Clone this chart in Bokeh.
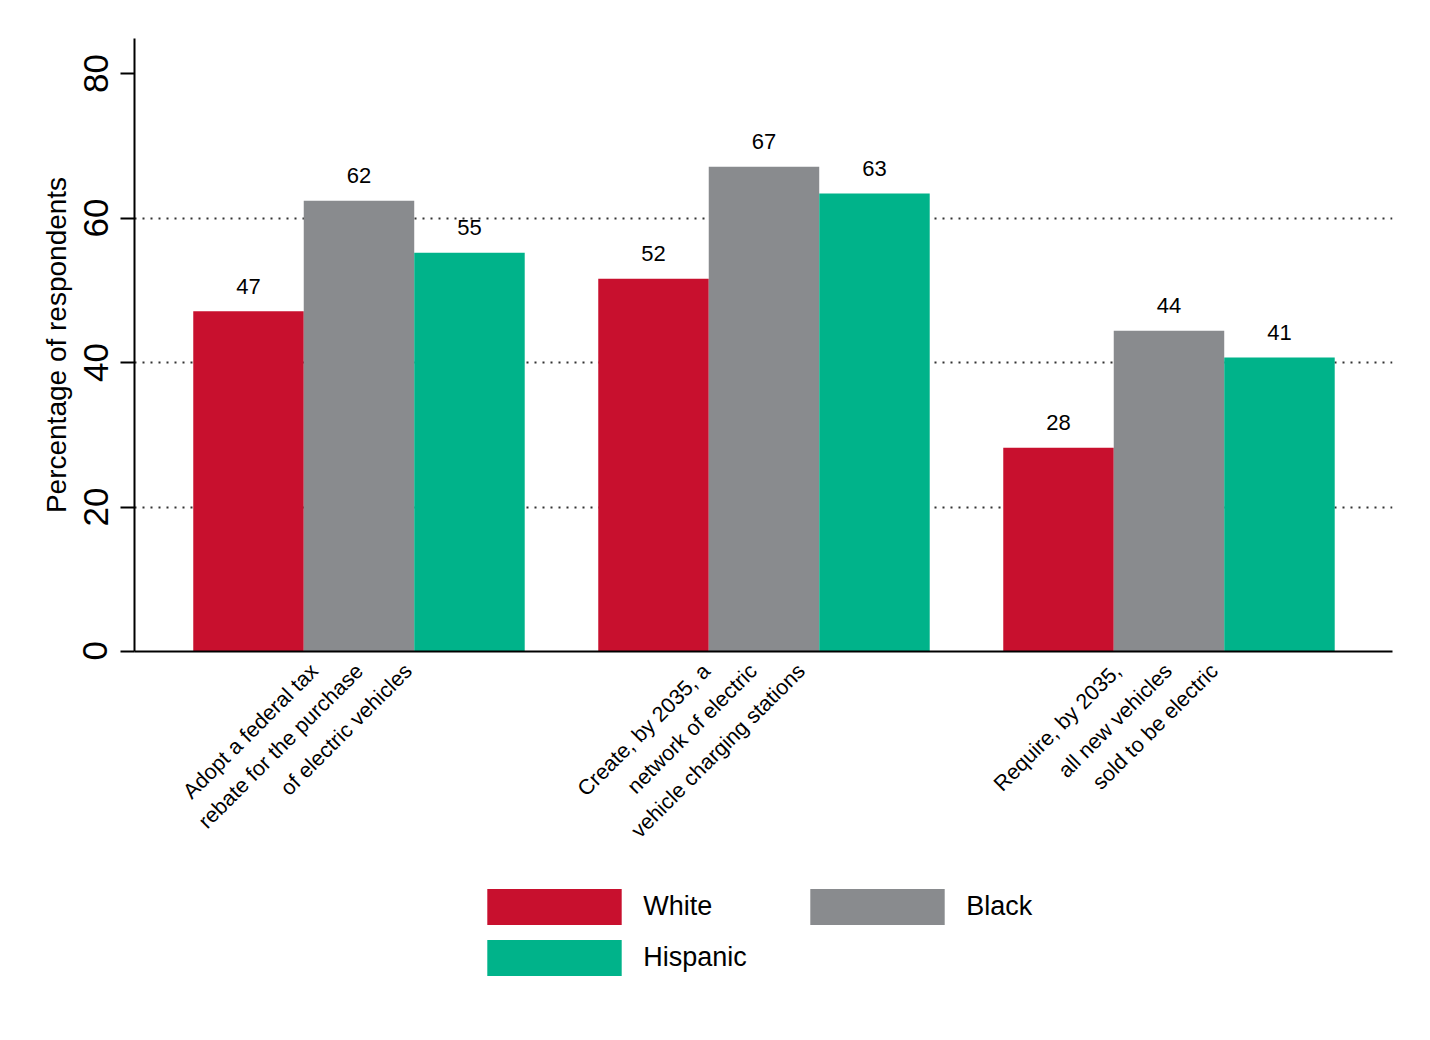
import math
from bokeh.plotting import figure
from bokeh.layouts import column
from bokeh.models import Range1d, FixedTicker, Legend, LegendItem
from bokeh.embed import file_html
from bokeh.resources import INLINE
from bokeh.core.properties import value

# ---------------- data ----------------
categories = [
    ["Adopt a federal tax", "rebate for the purchase", "of electric vehicles"],
    ["Create, by 2035, a", "network of electric", "vehicle charging stations"],
    ["Require, by 2035,", "all new vehicles", "sold to be electric"],
]
series_names = ["White", "Black", "Hispanic"]
white = [47.1, 51.6, 28.2]
black = [62.4, 67.1, 44.4]
hispanic = [55.2, 63.4, 40.7]
y_ticks = [0, 20, 40, 60, 80]
y_axis_title = "Percentage of respondents"

# ---------------- styles / layout ----------------
colors = ["#C8102E", "#898B8E", "#00B38A"]
FONT = "Liberation Sans"
W = 1414
H1, H2 = 660, 364
ML, MR, MT, MB = 134, 22, 38, 9
PX = 578 / 80.0            # pixels per percentage point
UX = 405.0                 # pixels per category unit
frame_h = H1 - MT - MB
frame_w = W - ML - MR
Y_END = frame_h / PX
x_start = 0.4457
x_end = x_start + frame_w / UX
BW = 0.2728
xr = Range1d(x_start, x_end)

# ---------------- top figure: bars ----------------
p = figure(width=W, height=H1, output_backend="svg", toolbar_location=None,
           x_range=xr, y_range=Range1d(0, Y_END),
           min_border_left=ML, min_border_right=MR, min_border_top=MT,
           min_border_bottom=MB)
p.outline_line_color = None
p.background_fill_color = "white"
p.border_fill_color = "white"
p.xgrid.visible = False

# x axis: just the black baseline
xa = p.xaxis[0]
xa.ticker = FixedTicker(ticks=[])
xa.axis_line_color = "black"
xa.axis_line_width = 2
xa.major_tick_out = 0
xa.major_tick_in = 0
xa.minor_tick_out = 0
xa.minor_tick_in = 0
xa.major_label_standoff = 0

# grid
p.ygrid.ticker = FixedTicker(ticks=[20, 40, 60])
p.ygrid.grid_line_color = "#333333"
p.ygrid.grid_line_width = 2
p.ygrid.grid_line_dash = "2 6"

# y axis
ax = p.yaxis[0]
ax.ticker = FixedTicker(ticks=y_ticks)
ax.axis_line_width = 2
ax.axis_line_color = "black"
ax.major_tick_line_width = 2
ax.major_tick_line_color = "black"
ax.major_tick_out = 14
ax.major_tick_in = 0
ax.minor_tick_out = 0
ax.minor_tick_in = 0
ax.major_label_orientation = "vertical"
ax.major_label_text_font = FONT
ax.major_label_text_font_size = "35px"
ax.major_label_text_color = "black"
ax.major_label_standoff = 13
ax.axis_label = y_axis_title
ax.axis_label_text_font = FONT
ax.axis_label_text_font_size = "28px"
ax.axis_label_text_font_style = "normal"
ax.axis_label_text_color = "black"
ax.axis_label_standoff = 9

# bars + value labels
for k, vals in enumerate([white, black, hispanic]):
    xs = [g + 1 + (k - 1) * BW for g in range(len(vals))]
    p.vbar(x=xs, top=vals, bottom=0, width=BW, fill_color=colors[k],
           line_color=None)
    p.text(x=xs, y=[v + 25 / PX for v in vals],
           text=[str(int(round(v))) for v in vals],
           text_align="center", text_baseline="alphabetic",
           text_font=value(FONT), text_font_size="22px", text_color="black")

# ---------------- bottom figure: category labels + legend ----------------
q = figure(width=W, height=H2, output_backend="svg", toolbar_location=None,
           x_range=xr, y_range=Range1d(0, H2),
           min_border_left=ML, min_border_right=MR, min_border_top=0,
           min_border_bottom=0)
q.outline_line_color = None
q.background_fill_color = "white"
q.border_fill_color = "white"
q.xaxis.visible = False
q.yaxis.visible = False
q.grid.visible = False

LINE_OFF = [[-44.5, 0.5, 49.5], [-57.5, -10.5, 37.5], [-51.5, -0.5, 45.5]]
LAB_Y = H2 - 7
for g, lines in enumerate(categories):
    xs = [g + 1 + LINE_OFF[g][i] / UX for i in range(len(lines))]
    q.text(x=xs, y=[LAB_Y] * len(lines), text=lines, angle=math.pi / 4,
           text_align="right", text_baseline="middle",
           text_font=value(FONT), text_font_size="21.5px", text_color="black")

# legend proxies: zero-height bars carrying the series colours
proxies = [q.vbar(x=[1], top=[0], bottom=[0], width=BW, fill_color=c,
                  line_color=None)
           for c in colors]
legend = Legend(
    items=[LegendItem(label=n, renderers=[r]) for n, r in zip(series_names, proxies)],
    location=(336.25, 44.5), orientation="horizontal", ncols=2,
    glyph_width=168, glyph_height=45, label_standoff=5, label_width=144,
    spacing=6, padding=0, margin=0, border_line_color=None,
    background_fill_alpha=0, label_text_font=FONT,
    label_text_font_size="27px", label_text_color="black")
q.add_layout(legend)

layout = column(p, q, spacing=0)
open("out.html", "w").write(file_html(layout, INLINE))
